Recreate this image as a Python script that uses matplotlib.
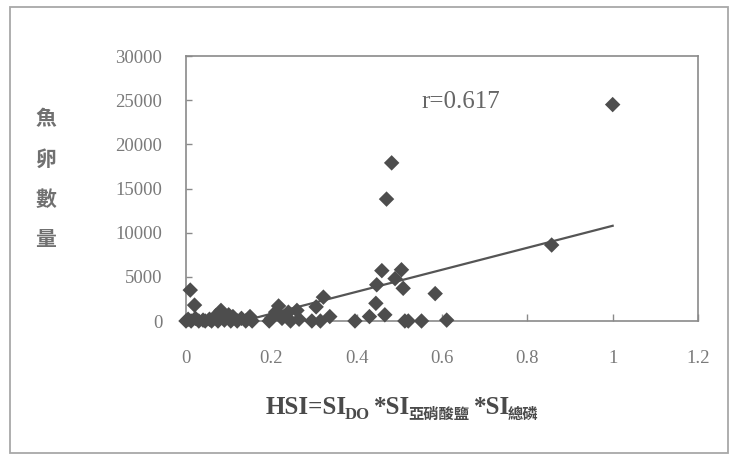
import matplotlib

matplotlib.use("Agg")
import matplotlib.pyplot as plt
from matplotlib.patches import Rectangle
import numpy as np

# HSI vs. fish egg count
HSI = [
    0.000, 0.005, 0.010, 0.012, 0.020, 0.022, 0.030, 0.040, 0.045, 0.055,
    0.060, 0.070, 0.075, 0.082, 0.090, 0.100, 0.105, 0.110, 0.120, 0.130,
    0.140, 0.150, 0.155, 0.195, 0.200, 0.210, 0.217, 0.225, 0.240, 0.245,
    0.260, 0.265, 0.295, 0.305, 0.315, 0.322, 0.337, 0.396, 0.430, 0.447,
    0.445, 0.459, 0.466, 0.470, 0.482, 0.490, 0.505, 0.509, 0.513, 0.521,
    0.552, 0.584, 0.611, 0.857, 1.000,
]
EGGS = [
    0, 200, 3500, 0, 1800, 300, 0, 100, 0, 200,
    0, 600, 0, 1200, 100, 700, 0, 500, 0, 300,
    0, 500, 0, 0, 300, 1000, 1700, 300, 1000, 0,
    1200, 200, 0, 1600, 0, 2700, 500, 0, 500, 4100,
    2000, 5700, 700, 13800, 17900, 4800, 5800, 3700, 0, 0,
    0, 3100, 100, 8600, 24500,
]

# linear trend as drawn on the chart
TREND_SLOPE = 12450
TREND_INTERCEPT = -1670
TREND_X = [0.0, 1.0]
R_TEXT = "r=0.617"

XTICKS = [0, 0.2, 0.4, 0.6, 0.8, 1, 1.2]
XTICK_LABELS = ["0", "0.2", "0.4", "0.6", "0.8", "1", "1.2"]
YTICKS = [0, 5000, 10000, 15000, 20000, 25000, 30000]

YLABEL_CHARS = ["魚", "卵", "數", "量"]
# x label pieces: (text, kind)  kind: main / sub / subcjk
XLABEL_PARTS = [
    ("HSI=SI", "main"),
    ("DO", "sub"),
    ("*SI", "main"),
    ("亞硝酸鹽", "subcjk"),
    ("*SI", "main"),
    ("總磷", "subcjk"),
]

W, H = 742, 461
SERIF = ["Liberation Serif", "DejaVu Serif"]
CJK = ["Noto Sans CJK TC", "DejaVu Sans"]

fig = plt.figure(figsize=(W / 100, H / 100), dpi=100)
fig.patch.set_facecolor("white")

# outer frame of the chart object
fig.patches.append(
    Rectangle((10 / W, 1 - 453 / H), 718 / W, 446 / H,
              transform=fig.transFigure, fill=False,
              edgecolor="#a8a8a8", linewidth=1.3)
)

ax = fig.add_axes([186 / W, 1 - 321 / H, 512 / W, 265 / H])
ax.scatter(HSI, EGGS, marker="D", s=62, color="#4d4d4d",
           edgecolors="none", zorder=3, clip_on=False)

tx = np.array(TREND_X)
ax.plot(tx, TREND_SLOPE * tx + TREND_INTERCEPT, color="#555555",
        linewidth=1.6, zorder=2)

ax.set_xlim(0, 1.2)
ax.set_ylim(0, 30000)
ax.set_xticks(XTICKS)
ax.set_xticklabels(XTICK_LABELS)
ax.set_yticks(YTICKS)
for sp in ax.spines.values():
    sp.set_color("#8a8a8a")
    sp.set_linewidth(1.2)
ax.tick_params(axis="x", direction="in", length=5, width=1.0,
               color="#8a8a8a", pad=21, labelsize=13.5,
               labelcolor="#7a7a7a")
ax.tick_params(axis="y", direction="in", length=4, width=1.0,
               color="#8a8a8a", pad=17, labelsize=13.5,
               labelcolor="#7a7a7a")
for lab in ax.get_xticklabels() + ax.get_yticklabels():
    lab.set_family(SERIF)

ax.text(0.553, 24800, R_TEXT, family=SERIF, fontsize=18,
        color="#666666", ha="left", va="center")

# vertical y label, one character per line
for k, ch in enumerate(YLABEL_CHARS):
    fig.text(46 / W, 1 - (119 + 40 * k) / H, ch, family=CJK,
             fontsize=15, fontweight="bold", color="#707070",
             ha="center", va="center")

# x label with subscripts, laid out piece by piece
renderer = fig.canvas.get_renderer()
x_px = 266
base_px = 414
for txt, kind in XLABEL_PARTS:
    if kind == "main":
        kw = dict(family=SERIF, fontsize=18, fontweight="bold")
        y_px = base_px
    elif kind == "sub":
        kw = dict(family=SERIF, fontsize=12, fontweight="bold")
        y_px = base_px + 5
    else:
        kw = dict(family=CJK, fontsize=11, fontweight="bold")
        y_px = base_px + 5
    t = fig.text(x_px / W, 1 - y_px / H, txt, color="#4a4a4a",
                 ha="left", va="baseline", **kw)
    bb = t.get_window_extent(renderer=renderer)
    x_px = bb.x1 + (-2 if kind == "main" else 4)

fig.savefig("out.png", dpi=100, facecolor="white")
